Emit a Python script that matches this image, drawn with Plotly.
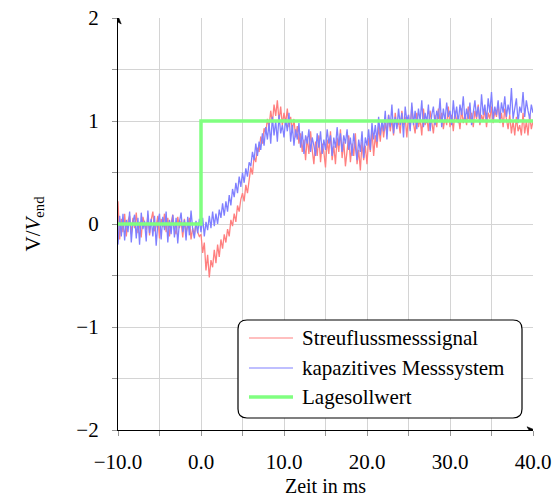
import numpy as np
import plotly.graph_objects as go

# Time axis: -10 ms .. 40 ms sampled every 0.2 ms
t_start, t_end = -10.0, 40.0

# Streuflussmesssignal, normalised to V_end (one row per millisecond, 5 samples each)
streufluss = [
    0.22, -0.15, 0.05, -0.08, 0.10,
    -0.12, 0.03, 0.08, -0.10, 0.06,
    -0.04, 0.11, -0.09, 0.02, -0.13,
    0.07, 0.00, -0.06, 0.09, -0.11,
    0.04, 0.12, -0.07, -0.02, 0.08,
    -0.14, 0.05, -0.03, 0.10, -0.08,
    0.06, -0.12, 0.01, 0.09, -0.05,
    -0.10, 0.07, -0.04, 0.03, -0.13,
    0.05, -0.09, -0.02, 0.06, -0.15,
    -0.04, -0.11, 0.02, -0.08, -0.12,
    -0.10, -0.28, -0.18, -0.45, -0.30,
    -0.52, -0.35, -0.42, -0.25, -0.38,
    -0.20, -0.32, -0.15, -0.24, -0.10,
    -0.18, -0.05, -0.12, 0.04, -0.02,
    0.10, 0.02, 0.18, 0.12, 0.24,
    0.30, 0.22, 0.38, 0.30, 0.45,
    0.55, 0.48, 0.66, 0.60, 0.74,
    0.70, 0.85, 0.78, 0.93, 0.88,
    1.02, 0.94, 1.10, 0.98, 1.16,
    1.05, 1.20, 1.00, 1.14, 0.96,
    1.08, 0.98, 1.12, 0.94, 1.04,
    0.90, 1.02, 0.84, 0.95, 0.78,
    0.88, 0.70, 0.82, 0.62, 0.85,
    0.68, 0.90, 0.72, 0.58, 0.80,
    0.66, 0.86, 0.60, 0.78, 0.70,
    0.55, 0.82, 0.68, 0.90, 0.62,
    0.76, 0.58, 0.84, 0.70, 0.92,
    0.64, 0.80, 0.56, 0.74, 0.86,
    0.60, 0.78, 0.66, 0.88, 0.58,
    0.72, 0.52, 0.80, 0.62, 0.76,
    0.58, 0.84, 0.70, 0.92, 0.66,
    0.86, 0.74, 0.95, 0.80, 1.00,
    0.84, 0.98, 0.88, 1.06, 0.90,
    1.02, 0.86, 1.08, 0.94, 1.00,
    0.88, 1.10, 0.96, 1.04, 0.84,
    1.06, 0.92, 1.14, 0.98, 0.88,
    1.08, 0.94, 1.02, 0.86, 1.12,
    0.96, 1.04, 0.90, 1.10, 0.98,
    0.88, 1.06, 0.94, 1.12, 1.00,
    1.08, 0.92, 1.04, 0.96, 1.14,
    0.94, 1.06, 0.90, 1.10, 1.00,
    1.04, 0.92, 1.12, 0.98, 1.06,
    0.96, 1.14, 1.00, 1.08, 0.94,
    1.10, 1.02, 1.16, 0.96, 1.06,
    1.00, 1.12, 0.94, 1.08, 1.02,
    1.14, 0.98, 1.10, 1.04, 1.18,
    0.98, 1.08, 0.94, 1.12, 1.02,
    0.92, 1.06, 0.88, 1.00, 0.86,
    1.04, 0.90, 0.96, 0.86, 1.08,
    0.88, 1.00, 0.86, 1.06, 0.92,
    1.00,
]

# Kapazitives Messsystem, normalised to V_end
kapazitiv = [
    -0.20, 0.08, -0.12, 0.10, -0.16,
    0.04, -0.08, 0.12, -0.18, 0.02,
    0.09, -0.14, 0.06, -0.20, 0.11,
    -0.05, 0.03, -0.17, 0.13, -0.09,
    0.05, -0.12, 0.08, -0.21, 0.01,
    0.10, -0.15, 0.07, -0.06, 0.12,
    -0.18, 0.04, -0.10, 0.09, -0.13,
    0.06, -0.19, 0.02, 0.11, -0.08,
    0.04, -0.16, 0.07, -0.11, 0.13,
    -0.05, -0.14, 0.03, -0.09, 0.05,
    -0.08, 0.06, -0.12, 0.02, -0.06,
    0.08, -0.04, 0.12, -0.02, 0.10,
    0.00, 0.14, 0.06, 0.20, 0.08,
    0.22, 0.12, 0.28, 0.18, 0.34,
    0.26, 0.40, 0.30, 0.46, 0.36,
    0.50, 0.40, 0.54, 0.46, 0.60,
    0.56, 0.70, 0.62, 0.78, 0.66,
    0.80, 0.72, 0.88, 0.76, 0.94,
    0.82, 0.98, 0.78, 1.04, 0.86,
    1.00, 0.80, 1.06, 0.88, 0.96,
    0.84, 1.02, 0.90, 1.08, 0.80,
    0.96, 0.76, 0.92, 0.82, 0.98,
    0.74, 0.90, 0.68, 0.86, 0.78,
    0.92, 0.70, 0.84, 0.76, 0.66,
    0.88, 0.74, 0.90, 0.68, 0.82,
    0.72, 0.92, 0.78, 0.86, 0.66,
    0.84, 0.74, 0.94, 0.76, 0.88,
    0.70, 0.86, 0.78, 0.92, 0.72,
    0.84, 0.66, 0.88, 0.76, 0.62,
    0.82, 0.70, 0.90, 0.64, 0.84,
    0.76, 0.92, 0.72, 0.98, 0.82,
    0.96, 0.80, 1.04, 0.86, 1.00,
    0.90, 1.10, 0.82, 1.06, 0.94,
    1.16, 0.88, 1.04, 0.92, 1.12,
    0.96, 1.08, 0.84, 1.14, 1.00,
    1.06, 0.90, 1.18, 0.96, 1.10,
    0.92, 1.12, 1.00, 1.20, 0.94,
    1.08, 0.98, 1.16, 0.90, 1.06,
    1.14, 0.96, 1.10, 1.02, 1.22,
    0.94, 1.12, 1.00, 1.18, 1.04,
    1.10, 0.96, 1.20, 1.02, 1.14,
    0.98, 1.16, 1.06, 1.24, 1.00,
    1.12, 1.02, 1.18, 0.96, 1.10,
    1.20, 1.04, 1.14, 0.98, 1.26,
    1.06, 1.16, 1.00, 1.22, 1.08,
    1.28, 1.02, 1.14, 1.06, 1.20,
    1.00, 1.18, 1.08, 1.24, 1.04,
    1.16, 1.06, 1.32, 1.02, 1.12,
    1.22, 0.98, 1.14, 1.08, 1.28,
    1.04, 1.20, 1.10, 1.02, 1.16,
    1.08,
]

# Lagesollwert: step from 0 to 1 at t = 0 ms
soll_t = [-10.0, 0.0, 40.0]
soll_v = [0.0, 1.0, 1.0]

x_ticks = [-10, 0, 10, 20, 30, 40]
y_ticks = [-2, -1, 0, 1, 2]

series_names = ["Streuflussmesssignal", "kapazitives Messsystem", "Lagesollwert"]
c_red = "rgb(255,128,128)"
c_blue = "rgb(128,128,255)"
c_green = "rgb(128,255,128)"

t = np.linspace(t_start, t_end, len(streufluss))

FONT = "Liberation Serif"
FS = 21

fig = go.Figure()
fig.add_trace(go.Scatter(x=t, y=streufluss, mode="lines", name=series_names[0],
                         line=dict(color=c_red, width=1.3)))
fig.add_trace(go.Scatter(x=t, y=kapazitiv, mode="lines", name=series_names[1],
                         line=dict(color=c_blue, width=1.3)))
fig.add_trace(go.Scatter(x=soll_t, y=soll_v, mode="lines", name=series_names[2],
                         line=dict(color=c_green, width=3.5, shape="hv")))

W, H = 560, 497
ml, mr, mt, mb = 118, 27, 18, 67
pw, ph = W - ml - mr, H - mt - mb

def px(x):
    return (x - ml) / pw

def py(y):
    return (H - mb - y) / ph

# Rounded legend frame (pixel geometry converted to paper units)
x0, x1 = px(238), px(522)
y0, y1 = py(418), py(320)
rx, ry = 9 / pw, 9 / ph
path = (f"M {x0+rx},{y0} L {x1-rx},{y0} Q {x1},{y0} {x1},{y0+ry} "
        f"L {x1},{y1-ry} Q {x1},{y1} {x1-rx},{y1} L {x0+rx},{y1} "
        f"Q {x0},{y1} {x0},{y1-ry} L {x0},{y0+ry} Q {x0},{y0} {x0+rx},{y0} Z")
shapes = [dict(type="path", path=path, xref="paper", yref="paper",
               fillcolor="white", line=dict(color="black", width=1.2), layer="above")]

annotations = []
rows = [(338, c_red, 1.2), (368, c_blue, 1.2), (397, c_green, 3.5)]
for name, (ry_px, col, w) in zip(series_names, rows):
    shapes.append(dict(type="line", xref="paper", yref="paper",
                       x0=px(249), x1=px(293), y0=py(ry_px), y1=py(ry_px),
                       line=dict(color=col, width=w), layer="above"))
    annotations.append(dict(x=px(300), y=py(ry_px), xref="paper", yref="paper",
                            text=name, showarrow=False, xanchor="left", yanchor="middle",
                            font=dict(family=FONT, size=FS, color="black")))

# Axis arrowheads (pixel-sized triangles anchored at the axis ends)
shapes.append(dict(type="path", xref="x", yref="y", xsizemode="pixel", ysizemode="pixel",
                   xanchor=t_end, yanchor=-2,
                   path="M 2,0 L -6,3.2 L -4,0 L -6,-3.2 Z",
                   fillcolor="black", line=dict(color="black", width=0.6), layer="above"))
shapes.append(dict(type="path", xref="x", yref="y", xsizemode="pixel", ysizemode="pixel",
                   xanchor=t_start, yanchor=2,
                   path="M 0,2 L -3.2,-6 L 0,-4 L 3.2,-6 Z",
                   fillcolor="black", line=dict(color="black", width=0.6), layer="above"))

grid_col = "rgb(212,212,212)"
fig.update_layout(
    width=W, height=H,
    margin=dict(l=ml, r=mr, t=mt, b=mb, autoexpand=False),
    paper_bgcolor="white", plot_bgcolor="white",
    showlegend=False,
    font=dict(family=FONT, size=FS, color="black"),
    shapes=shapes, annotations=annotations,
)
fig.update_xaxes(
    range=[t_start, t_end], tickvals=x_ticks, tickformat=".1f",
    automargin=False,
    showgrid=True, gridcolor=grid_col, gridwidth=1, zeroline=False,
    showline=True, linecolor="black", linewidth=1.2,
    ticks="outside", ticklen=5, tickcolor="rgb(150,150,150)",
    ticklabelstandoff=8,
    minor=dict(dtick=5, tick0=-10, showgrid=True, gridcolor=grid_col, gridwidth=1,
               ticks="outside", ticklen=5, tickcolor="rgb(150,150,150)"),
    title=dict(text="Zeit in ms", standoff=10, font=dict(family=FONT, size=20)),
)
fig.update_yaxes(
    range=[-2, 2], tickvals=y_ticks,
    automargin=False,
    showgrid=True, gridcolor=grid_col, gridwidth=1, zeroline=False,
    showline=True, linecolor="black", linewidth=1.2,
    ticks="outside", ticklen=5, tickcolor="rgb(150,150,150)",
    ticklabelstandoff=9,
    minor=dict(dtick=0.5, tick0=-2, showgrid=True, gridcolor=grid_col, gridwidth=1,
               ticks="outside", ticklen=5, tickcolor="rgb(150,150,150)"),
    title=dict(text="V/<i>V</i><sub>end</sub>", standoff=30, font=dict(family=FONT, size=FS)),
)

fig.write_html("out.html")
